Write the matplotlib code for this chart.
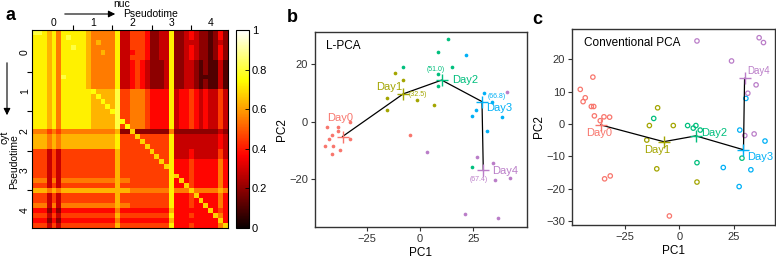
import numpy as np
import matplotlib
matplotlib.use("Agg")
import matplotlib.pyplot as plt

plt.rcParams["font.family"] = ["Liberation Sans", "DejaVu Sans"]

# ── panel a: nuc vs cyt correlation over pseudotime (digit d -> 0.02 + 0.088*d) ──
heat_rows = [
    "9987868888876666683355542233822343221242",
    "8887868988876666683355542233822343221242",
    "8887868888876766683355542233822333221232",
    "8887868898876666683355542233822343221242",
    "8887868888876676683345542233822343221242",
    "8887868888876666683355542233822343221242",
    "8887868888876666683345432223822332121131",
    "8887868888876666683345432223822332121131",
    "8887868888876666683345432223822332121131",
    "8887869888876666683345432223822332111131",
    "8887868888876666683345432223822332121131",
    "8887868888876666683345432223822332121131",
    "8887868888887777795566654444834454343353",
    "8887868888887777795566654444834454343353",
    "8887868888887777795566654444834454343353",
    "8887868888887777795566654444834454343353",
    "8887868888887777795566654444834454343353",
    "8887868888887777795566654444834454343353",
    "8887868888887777795566654444834454343353",
    "8887868888887777795566654444834454343353",
    "6665656666666666672222222222622222222232",
    "7776767777777777785555555555833333333343",
    "7776767777777777785555555555833333333343",
    "7776767777777777785555555555833333333343",
    "5553535555555555575555555555833343333353",
    "5553535555555555575555555555833343333353",
    "5553535555555555575555555555844454444464",
    "5553535555555555575555555555844454444464",
    "5553535555555555575555555555844454444464",
    "5553535555555555575555555555844454444464",
    "6663636666666666676655555555844454444464",
    "5553535555555555575555555555844454444464",
    "7776767777777777777766666666866666666676",
    "5553535555555555575555555555844454444464",
    "5553535555555555575555555555844454444464",
    "6663636666666666676655555555844454444464",
    "4442424444444444464444444444744444444454",
    "5553535555555555575555555555844454444464",
    "4442424444444444464444444444744444444454",
    "5553535555555555575555555555844454444464",
]
diag_vals = [0.0] * 12 + [0.75] * 8 + [0.68] * 20
heat_ticks = [0, 1, 2, 3, 4]
heat_sep = [0.5, 1.5, 2.5, 3.5]

# ── panel b: L-PCA ──
days = ["Day0", "Day1", "Day2", "Day3", "Day4"]
colors = ["#F8766D", "#A3A500", "#00BF7D", "#00B0F6", "#BA7DC8"]

b_x = [
    [-43.4, -38.6, -38.3, -32.8, -41.4, -42.5, -32.8, -44.5, -40.6, -37.5, -41.4, -4.7],
    [-11.7, -8.1, -15.3, -1.3, 6.6, -15.3],
    [13.3, 8.6, -7.8, 14.9, 8.6, 24.2, 8.6],
    [21.6, 30.0, 33.6, 26.1, 24.2, 38.3, 31.3],
    [40.6, 26.9, 34.1, 35.2, 42.2, 3.1, 21.1, 36.7],
]
b_y = [
    [-2.0, -1.9, -3.1, 0.0, -4.7, -6.2, -6.2, -8.4, -8.4, -9.9, -11.2, -4.7],
    [17.1, 14.5, 8.2, 7.6, 5.8, 4.1],
    [28.7, 24.4, 19.0, 19.0, 12.5, -15.9, 16.5],
    [23.3, 9.9, 7.0, 4.1, 2.0, 1.5, -3.1],
    [10.5, -12.4, -14.3, -20.3, -19.8, -10.7, -32.2, -33.7],
]
b_cx = [-36.3, -7.8, 10.2, 29.1, 29.7]
b_cy = [-5.2, 9.7, 14.5, 7.0, -16.8]
b_pseudo = [None, "(32.5)", "(51.0)", "(66.8)", "(67.4)"]

# ── panel c: conventional PCA ──
c_x = [
    [-45.6, -43.3, -44.3, -39.8, -40.5, -39.4, -39.1, -36.4, -34.7, -32.1, -34.4, -31.8, -4.6],
    [-10.0, -13.8, -2.8, -15.0, -10.4, 8.1],
    [-11.8, 3.8, 6.4, 7.6, 9.6, 8.1, 28.8],
    [30.6, 27.8, 39.4, 20.2, 32.9, 27.5],
    [8.1, 24.0, 36.7, 38.7, 35.3, 31.5, 34.4, 30.1],
]
c_y = [
    [10.7, 8.1, 6.9, 14.5, 5.4, 5.4, 2.5, 1.0, 2.2, 2.1, -17.0, -16.1, -28.5],
    [5.0, -0.5, -0.5, -5.0, -13.9, -18.0],
    [1.7, -0.5, -1.3, -0.5, -1.9, -12.0, -10.6],
    [7.9, -1.9, -5.3, -13.5, -14.2, -19.4],
    [25.7, 19.5, 26.7, 25.2, 12.1, 9.5, -3.1, -3.6],
]
c_cx = [-36.2, -7.2, 7.6, 29.5, 30.0]
c_cy = [-0.3, -5.5, -3.7, -8.0, 14.1]

W, H = 776, 259
fig = plt.figure(figsize=(W / 100, H / 100), dpi=100)


def box(x0, y0, x1, y1):
    return [x0 / W, 1 - y1 / H, (x1 - x0) / W, (y1 - y0) / H]


# ════════════ a ════════════
M = np.array([[0.02 + 0.088 * int(ch) for ch in r] for r in heat_rows])
for i, v in enumerate(diag_vals):
    M[i, i] = max(M[i, i], v)

axa = fig.add_axes(box(32, 30, 228, 228))
im = axa.imshow(M, cmap="hot", vmin=0, vmax=1, aspect="auto",
                extent=[-0.55, 4.45, 4.45, -0.55], interpolation="nearest")
# tick marks sit between the labelled integers
axa.set_xticks(heat_sep, minor=True)
axa.set_yticks(heat_sep, minor=True)
axa.set_xticks(heat_ticks)
axa.set_yticks(heat_ticks)
axa.set_xticklabels([str(t) for t in heat_ticks], fontsize=7.5)
axa.set_yticklabels([str(t) for t in heat_ticks], fontsize=7.5, rotation=90, va="center")
axa.tick_params(which="both", top=True, labeltop=True, bottom=False, labelbottom=False,
                left=True, right=False, width=0.8)
axa.tick_params(which="major", length=0, pad=1.5)
axa.tick_params(which="minor", length=3.5)
for s in axa.spines.values():
    s.set_linewidth(0.8)

cax = fig.add_axes(box(236, 30, 249, 228))
cb = fig.colorbar(im, cax=cax, ticks=[0, 0.2, 0.4, 0.6, 0.8, 1])
cb.ax.set_yticklabels(["0", "0.2", "0.4", "0.6", "0.8", "1"], fontsize=8)
cb.ax.tick_params(length=3, width=0.6, direction="in", pad=2)
cb.outline.set_linewidth(0.8)

fig.text(10 / W, 1 - 15 / H, "a", fontsize=13, fontweight="bold", va="center", ha="center")
fig.text(122 / W, 1 - 4 / H, "nuc", fontsize=7.5, ha="center", va="center")
fig.text(151 / W, 1 - 14 / H, "Pseudotime", fontsize=7.5, ha="center", va="center")
fig.add_artist(matplotlib.patches.FancyArrowPatch(
    (62 / W, 1 - 14 / H), (118 / W, 1 - 14 / H), transform=fig.transFigure,
    arrowstyle="-|>,head_length=4,head_width=2", lw=0.8, color="black"))
fig.text(5 / W, 1 - 137 / H, "cyt", fontsize=7.5, rotation=90, ha="center", va="center")
fig.text(14 / W, 1 - 162 / H, "Pseudotime", fontsize=7.5, rotation=90, ha="center", va="center")
fig.add_artist(matplotlib.patches.FancyArrowPatch(
    (7 / W, 1 - 60 / H), (7 / W, 1 - 118 / H), transform=fig.transFigure,
    arrowstyle="-|>,head_length=4,head_width=2", lw=0.8, color="black"))


def style(ax):
    for s in ax.spines.values():
        s.set_linewidth(1.0)
        s.set_color("#333333")
    ax.tick_params(length=3, width=0.8, color="#333333", labelsize=8, labelcolor="#333333", pad=2)
    ax.set_xlabel("PC1", fontsize=8.5, labelpad=2)
    ax.set_ylabel("PC2", fontsize=8.5, labelpad=1)


# ════════════ b ════════════
axb = fig.add_axes(box(315, 32, 527, 227))
for k in range(5):
    axb.scatter(b_x[k], b_y[k], s=7, color=colors[k], linewidths=0, zorder=2)
axb.plot(b_cx, b_cy, color="black", lw=0.9, zorder=3)
for k in range(5):
    axb.plot(b_cx[k], b_cy[k], marker="+", ms=9, mew=1.0, color=colors[k], zorder=4)
axb.text(-37.5, 1.2, "Day0", color=colors[0], fontsize=8, ha="center", va="center")
axb.text(-14.4, 12.0, "Day1", color=colors[1], fontsize=8, ha="center", va="center")
axb.text(14.9, 14.5, "Day2", color=colors[2], fontsize=8, ha="left", va="center")
axb.text(37.0, 4.7, "Day3", color=colors[3], fontsize=8, ha="center", va="center")
axb.text(39.8, -17.4, "Day4", color=colors[4], fontsize=8, ha="center", va="center")
pseudo_pos = [None, (-0.8, 9.3), (7.5, 18.3), (36.0, 8.7), (27.7, -20.3)]
for k in range(1, 5):
    axb.text(pseudo_pos[k][0], pseudo_pos[k][1], b_pseudo[k], color=colors[k],
             fontsize=5, ha="center", va="center")
axb.text(0.05, 0.93, "L-PCA", transform=axb.transAxes, fontsize=8.5, va="center")
axb.set_xlim(-49.2, 50.2)
axb.set_ylim(-36.8, 31.3)
axb.set_xticks([-25, 0, 25])
axb.set_yticks([-20, 0, 20])
style(axb)
fig.text(292 / W, 1 - 18 / H, "b", fontsize=13, fontweight="bold", va="center", ha="center")

# ════════════ c ════════════
axc = fig.add_axes(box(572, 29, 775, 225))
for k in range(5):
    axc.scatter(c_x[k], c_y[k], s=10, facecolors="none", edgecolors=colors[k],
                linewidths=0.9, zorder=2)
axc.plot(c_cx, c_cy, color="black", lw=0.9, zorder=3)
for k in range(5):
    axc.plot(c_cx[k], c_cy[k], marker="+", ms=9, mew=1.0, color=colors[k], zorder=4)
axc.text(-36.7, -2.9, "Day0", color=colors[0], fontsize=8, ha="center", va="center")
axc.text(-10.4, -8.0, "Day1", color=colors[1], fontsize=8, ha="center", va="center")
axc.text(16.1, -2.9, "Day2", color=colors[2], fontsize=8, ha="center", va="center")
axc.text(37.0, -10.3, "Day3", color=colors[3], fontsize=8, ha="center", va="center")
axc.text(36.4, 16.4, "Day4", color=colors[4], fontsize=7, ha="center", va="center")
axc.text(0.06, 0.93, "Conventional PCA", transform=axc.transAxes, fontsize=8.5, va="center")
axc.set_xlim(-49.4, 44.0)
axc.set_ylim(-31.3, 29.4)
axc.set_xticks([-25, 0, 25])
axc.set_yticks([-30, -20, -10, 0, 10, 20])
style(axc)
fig.text(537 / W, 1 - 20 / H, "c", fontsize=13, fontweight="bold", va="center", ha="center")

fig.savefig("out.png", dpi=100)
